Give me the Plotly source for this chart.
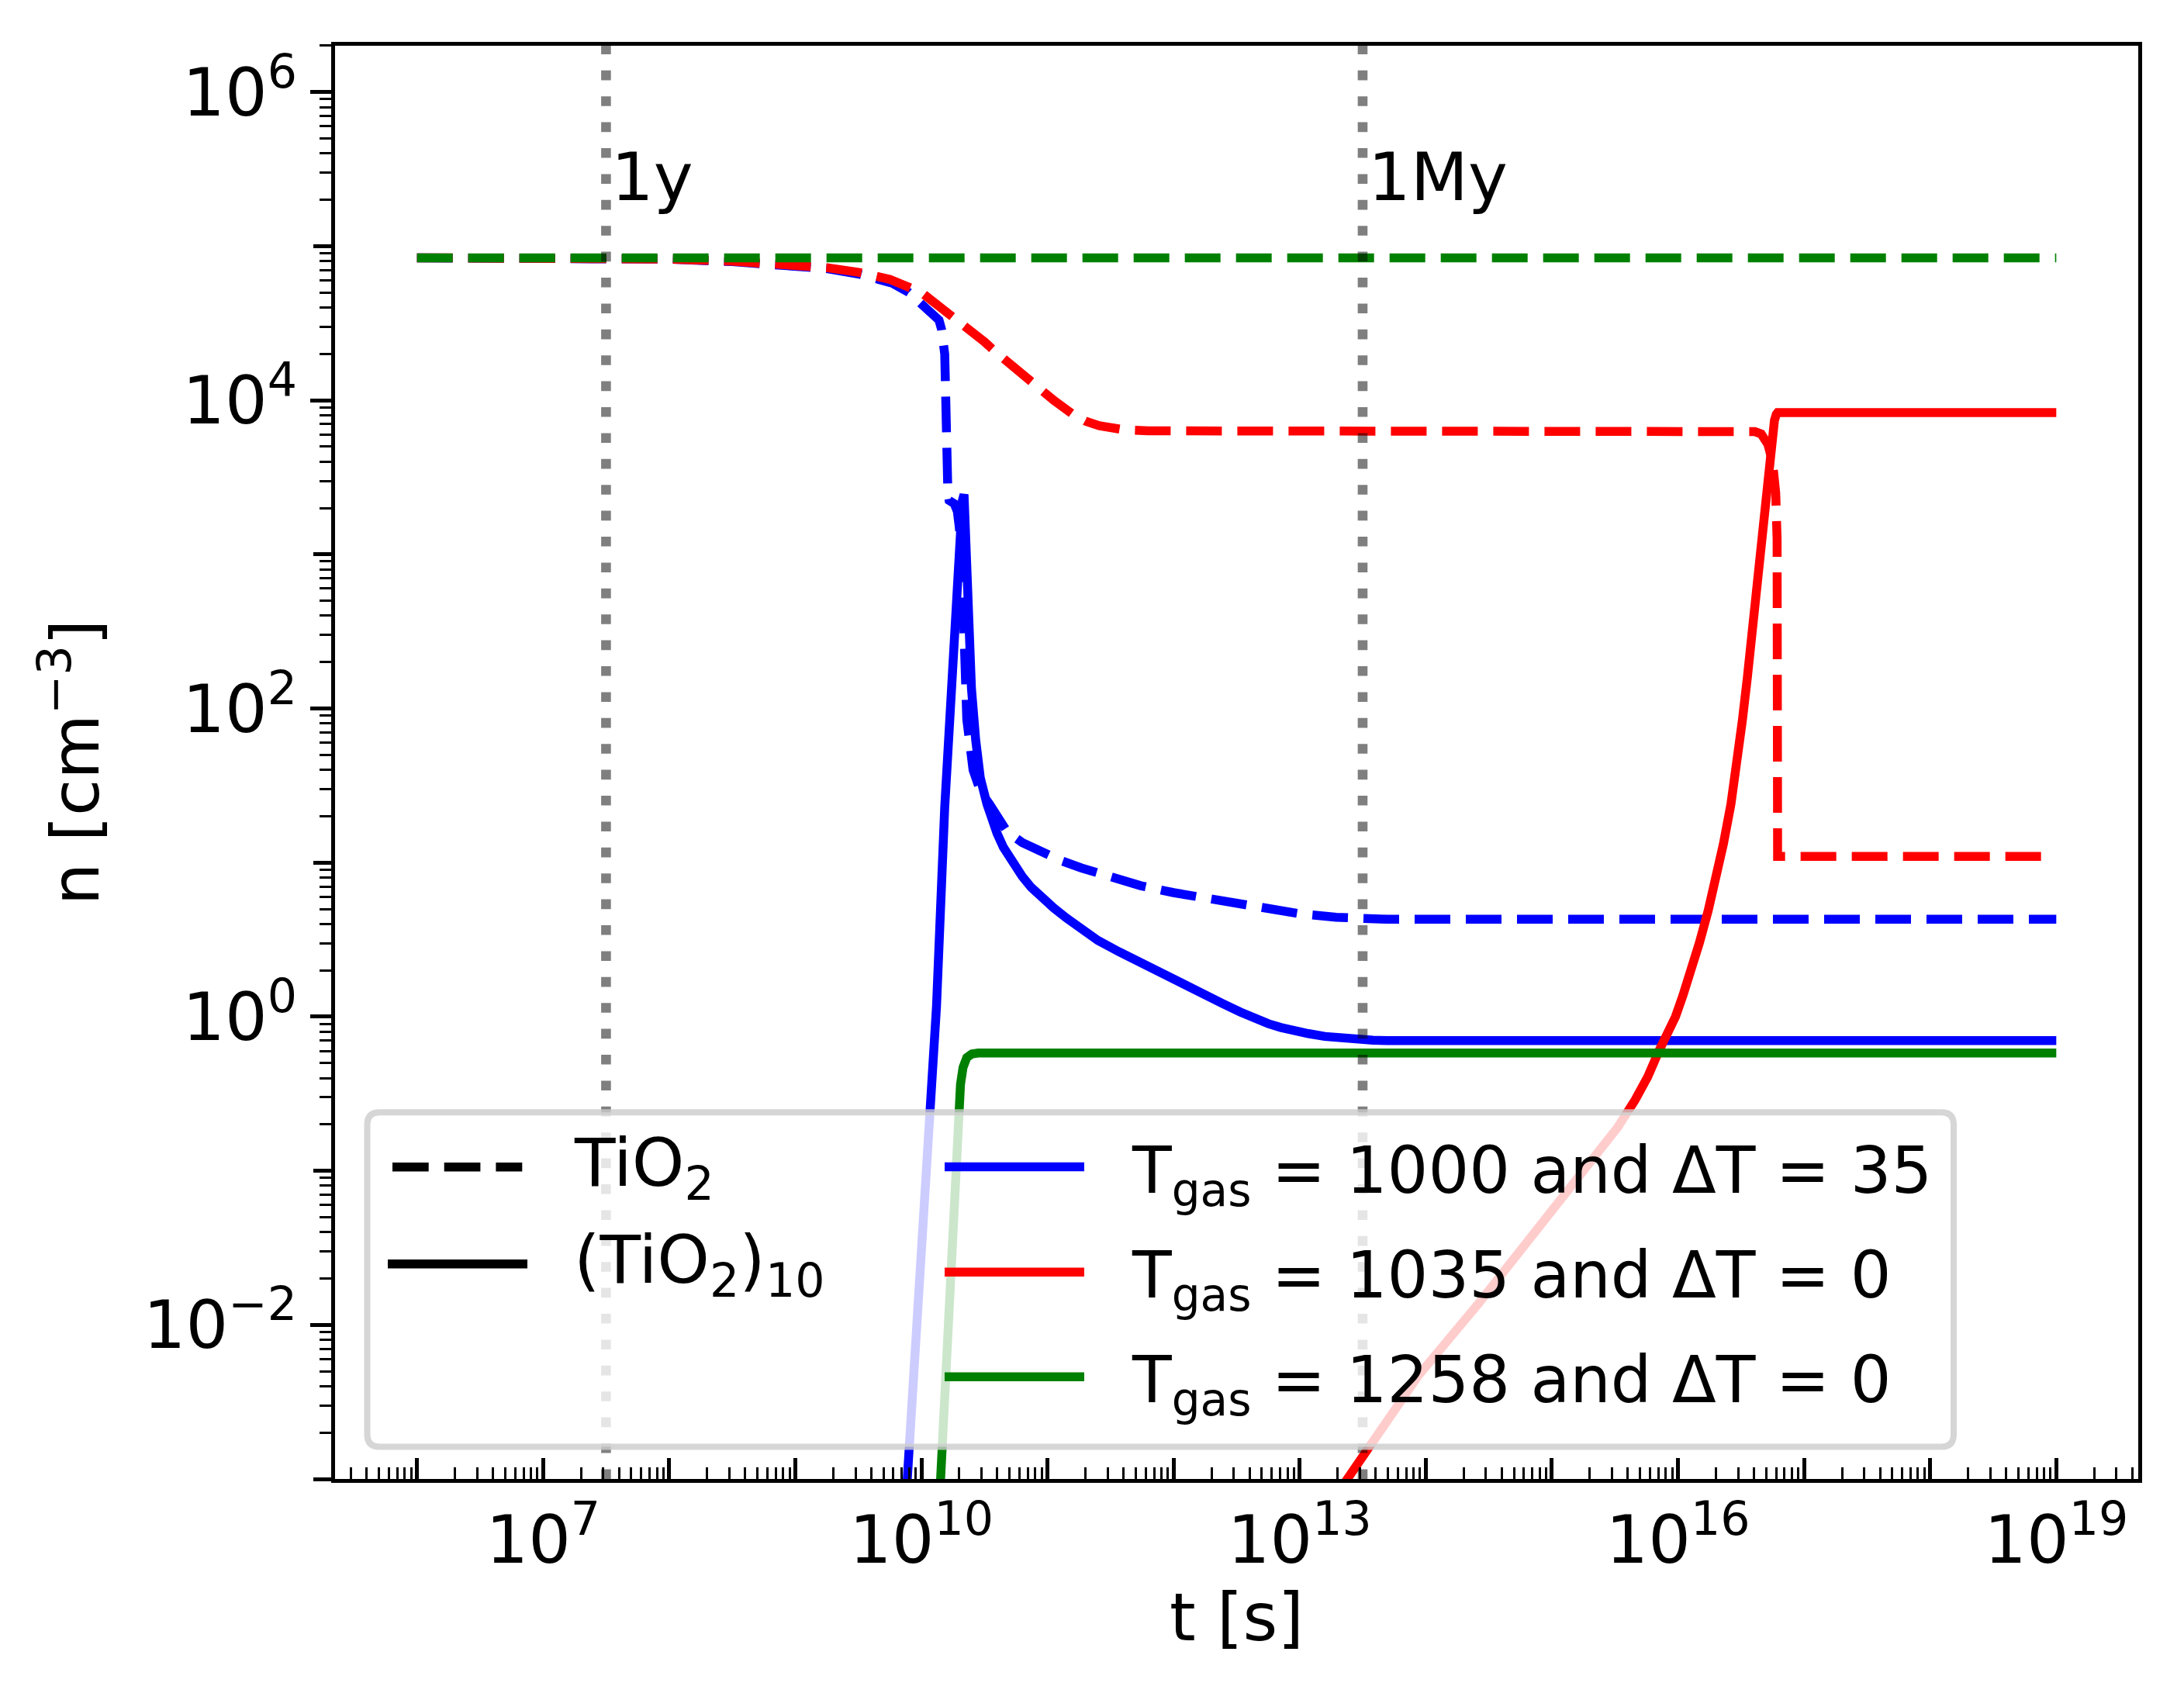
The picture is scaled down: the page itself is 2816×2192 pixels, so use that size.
import numpy as np
import plotly.graph_objects as go

# curves, as log10(t [s]) / log10(n [cm^-3])
# T_gas = 1000, dT = 35  (blue)
blue_dash_logt = [6.0, 7.5, 8.0, 8.5, 9.0, 9.25, 9.5, 9.77, 9.9, 9.97, 10.05, 10.1, 10.14,
                  10.16, 10.175, 10.185, 10.21, 10.22, 10.26, 10.285, 10.30, 10.32, 10.33,
                  10.34, 10.36, 10.41, 10.47, 10.54, 10.6, 10.68, 10.8, 10.92, 11.1, 11.27,
                  11.5, 11.74, 12.0, 12.21, 12.45, 12.68, 13.0, 13.29, 13.5, 13.7, 19.0]
blue_dash_logn = [4.925, 4.922, 4.916, 4.90, 4.875, 4.855, 4.82, 4.76, 4.70, 4.65, 4.59, 4.55,
                  4.52, 4.46, 4.38, 4.30, 3.40, 3.35, 3.33, 3.28, 3.18, 3.0, 2.7, 2.26, 1.93,
                  1.60, 1.46, 1.38, 1.30, 1.20, 1.13, 1.08, 1.015, 0.965, 0.905, 0.85, 0.805,
                  0.775, 0.74, 0.705, 0.668, 0.645, 0.635, 0.632, 0.632]
blue_solid_logt = [9.873, 9.89, 9.99, 10.08, 10.12, 10.185, 10.256, 10.303, 10.325, 10.338,
                   10.35, 10.37, 10.397, 10.43, 10.467, 10.52, 10.56, 10.6, 10.65, 10.72,
                   10.8, 10.87, 10.95, 11.05, 11.15, 11.27, 11.4, 11.57, 11.74, 11.87, 12.0,
                   12.12, 12.25, 12.39, 12.53, 12.64, 12.75, 12.85, 12.94, 13.07, 13.2, 13.32,
                   13.45, 13.58, 13.7, 19.0]
blue_solid_logn = [-3.2, -2.975, -1.79, -0.60, 0.07, 1.36, 2.51, 3.085, 3.35, 3.39,
                   3.08, 2.6, 2.13, 1.8, 1.55, 1.38, 1.26, 1.19, 1.10, 1.0,
                   0.91, 0.84, 0.775, 0.705, 0.64, 0.57, 0.495, 0.42, 0.35, 0.29, 0.23,
                   0.185, 0.14, 0.085, 0.03, -0.01, -0.045, -0.07, -0.09, -0.11, -0.128, -0.14,
                   -0.148, -0.152, -0.155, -0.155]

# T_gas = 1035, dT = 0  (red)
red_dash_logt = [6.0, 7.0, 7.5, 8.0, 8.5, 9.0, 9.25, 9.5, 9.75, 10.0, 10.13, 10.25, 10.38,
                 10.5, 10.58, 10.75, 10.89, 11.05, 11.2, 11.3, 11.41, 11.5, 11.61, 11.8,
                 12.5, 16.55, 16.61, 16.66, 16.713, 16.75, 16.775, 16.786, 16.79, 19.0]
red_dash_logn = [4.925, 4.924, 4.922, 4.917, 4.903, 4.88, 4.861, 4.831, 4.785, 4.70, 4.62,
                 4.54, 4.46, 4.38, 4.32, 4.20, 4.10, 4.0, 3.91, 3.865, 3.835, 3.818, 3.808,
                 3.802, 3.80, 3.80, 3.797, 3.782, 3.715, 3.6, 3.4, 3.1, 1.04, 1.04]
red_solid_logt = [13.21, 13.42, 13.94, 14.41, 14.88, 15.12, 15.35, 15.52, 15.66, 15.76, 15.85,
                  15.92, 15.98, 16.04, 16.10, 16.17, 16.24, 16.30, 16.36, 16.42, 16.47, 16.51,
                  16.55, 16.58, 16.61, 16.635, 16.655, 16.675, 16.694, 16.71, 16.725, 16.745,
                  16.765, 16.78, 16.79, 19.0]
red_solid_logn = [-3.2, -2.95, -2.33, -1.87, -1.39, -1.15, -0.90, -0.72, -0.54, -0.39, -0.22,
                  -0.10, 0.0, 0.14, 0.29, 0.48, 0.69, 0.89, 1.12, 1.38, 1.65, 1.92,
                  2.2, 2.44, 2.68, 2.88, 3.03, 3.19, 3.35, 3.49, 3.62, 3.765,
                  3.87, 3.91, 3.92, 3.92]

# T_gas = 1258, dT = 0  (green)
green_dash_logt = [6.0, 19.0]
green_dash_logn = [4.925, 4.925]
green_solid_logt = [10.14, 10.165, 10.29, 10.31, 10.33, 10.36, 10.40, 10.45, 19.0]
green_solid_logn = [-3.2, -2.77, -0.61, -0.44, -0.33, -0.265, -0.242, -0.236, -0.236]

# reference times
t_marks = [3.156e7, 3.156e13]
t_mark_labels = ["1y", "1My"]
t_mark_label_n = 2e5
n_limits = [1e-3, 2e6]

species_labels = ["TiO<sub>2</sub>", "(TiO<sub>2</sub>)<sub>10</sub>"]
run_labels = ["T<sub>gas</sub> = 1000 and ΔT = 35",
              "T<sub>gas</sub> = 1035 and ΔT = 0",
              "T<sub>gas</sub> = 1258 and ΔT = 0"]
run_colors = ["#0000ff", "#ff0000", "#008000"]

x_labeled = [7, 10, 13, 16, 19]
y_labeled = [-2, 0, 2, 4, 6]

# page geometry (pixels of the screenshot)
FIG_W, FIG_H = 2800, 2176
OFF = 8  # default body margin of the html page
L, R, T, B = 424, 51, 51, 277
PW, PH = FIG_W - L - R, FIG_H - T - B
FONT = "DejaVu Sans"
FS = 86
LW = 11.5
DASH = "46px,20px"
XR = [5.35, 19.65]
YR = [-3, 6.301]


def px(x):
    return (x - OFF - L) / PW


def py(y):
    return (FIG_H - B - (y - OFF)) / PH


def curve(logt, logn, color, dash, width=LW):
    return go.Scatter(
        x=10 ** np.array(logt), y=10 ** np.array(logn),
        mode="lines", showlegend=False, hoverinfo="skip",
        line=dict(color=color, width=width, dash=dash),
    )


fig = go.Figure()
fig.add_trace(curve(blue_dash_logt, blue_dash_logn, run_colors[0], DASH))
fig.add_trace(curve(blue_solid_logt, blue_solid_logn, run_colors[0], "solid"))
fig.add_trace(curve(red_dash_logt, red_dash_logn, run_colors[1], DASH))
fig.add_trace(curve(red_solid_logt, red_solid_logn, run_colors[1], "solid"))
fig.add_trace(curve(green_dash_logt, green_dash_logn, run_colors[2], DASH))
fig.add_trace(curve(green_solid_logt, green_solid_logn, run_colors[2], "solid"))

# vertical markers at 1 year and 1 Myr (half transparent black dots)
for t in t_marks:
    fig.add_trace(go.Scatter(
        x=[t, t], y=n_limits, mode="lines", showlegend=False, hoverinfo="skip",
        line=dict(color="rgba(0,0,0,0.5)", width=12.6, dash="12.6px,20.8px"),
    ))

# invisible trace so the overlay axes (decade ticks) get drawn
fig.add_trace(go.Scatter(x=[1e10], y=[1.0], xaxis="x2", yaxis="y2", mode="markers",
                         marker=dict(opacity=0), showlegend=False, hoverinfo="skip"))

shapes = []
annotations = []

for t, lab in zip(t_marks, t_mark_labels):
    annotations.append(dict(x=np.log10(t), y=np.log10(t_mark_label_n), xref="x", yref="y",
                            text=lab, showarrow=False, xanchor="left", yanchor="bottom",
                            xshift=5, yshift=-22,
                            font=dict(family=FONT, size=FS, color="black")))

# legend frame (rounded, semi transparent like matplotlib)
x0, x1 = px(473.5), px(2519)
yt, yb = py(1434.3), py(1865.5)
rx, ry = 16 / PW, 16 / PH
path = (f"M {x0+rx},{yt} L {x1-rx},{yt} Q {x1},{yt} {x1},{yt-ry} L {x1},{yb+ry} "
        f"Q {x1},{yb} {x1-rx},{yb} L {x0+rx},{yb} Q {x0},{yb} {x0},{yb+ry} "
        f"L {x0},{yt-ry} Q {x0},{yt} {x0+rx},{yt} Z")
shapes.append(dict(type="path", xref="paper", yref="paper", path=path, layer="above",
                   fillcolor="rgba(255,255,255,0.8)",
                   line=dict(color="rgba(204,204,204,0.8)", width=8)))

# legend column 1: line styles
col1_rows = [1504.8, 1629.7]
shapes.append(dict(type="line", xref="paper", yref="paper", layer="above",
                   x0=px(506), x1=px(673.3), y0=py(col1_rows[0]), y1=py(col1_rows[0]),
                   line=dict(color="black", width=LW, dash="46.7px,20px")))
shapes.append(dict(type="line", xref="paper", yref="paper", layer="above",
                   x0=px(500), x1=px(680), y0=py(col1_rows[1]), y1=py(col1_rows[1]),
                   line=dict(color="black", width=LW)))
for lab, yy in zip(species_labels, col1_rows):
    annotations.append(dict(x=px(738), y=py(yy), xref="paper", yref="paper", text=lab,
                            showarrow=False, xanchor="left", yanchor="middle",
                            font=dict(family=FONT, size=FS, color="black")))

# legend column 2: runs
col2_rows = [1504.6, 1640.2, 1775.2]
for lab, col, yy in zip(run_labels, run_colors, col2_rows):
    shapes.append(dict(type="line", xref="paper", yref="paper", layer="above",
                       x0=px(1218), x1=px(1398), y0=py(yy), y1=py(yy),
                       line=dict(color=col, width=LW)))
    annotations.append(dict(x=px(1457), y=py(yy), xref="paper", yref="paper", text=lab,
                            showarrow=False, xanchor="left", yanchor="middle", yshift=-10,
                            font=dict(family=FONT, size=83, color="black")))

x_minor = [k * 10.0 ** d for d in range(5, 20) for k in range(2, 10)]
y_minor = [k * 10.0 ** d for d in range(-3, 7) for k in range(2, 10)]
x_decades = [10.0 ** d for d in range(6, 20)]
y_decades = [10.0 ** d for d in range(-3, 7)]

tick_font = dict(family=FONT, size=FS, color="black")
axis_common = dict(
    type="log", showgrid=False, zeroline=False, showline=True, mirror=True,
    linecolor="black", linewidth=4.6, tickcolor="black", tickwidth=4.5, ticklen=27,
    tickfont=tick_font,
)

fig.update_layout(
    xaxis=dict(
        **axis_common, range=XR, ticks="inside",
        tickvals=[10.0 ** d for d in x_labeled],
        ticktext=[f"10<sup>{d}</sup>" for d in x_labeled],
        minor=dict(ticks="inside", tickvals=x_minor, ticklen=15, tickwidth=3, tickcolor="black"),
        title=dict(text="t [s]", font=tick_font, standoff=21),
    ),
    yaxis=dict(
        **axis_common, range=YR, ticks="outside",
        tickvals=[10.0 ** d for d in y_labeled],
        ticktext=[f"10<sup>{d}</sup>".replace("-", "−") for d in y_labeled],
        minor=dict(ticks="outside", tickvals=y_minor, ticklen=15, tickwidth=3, tickcolor="black"),
        title=dict(text="n [cm<sup>−3</sup>]", font=tick_font, standoff=30),
    ),
    # overlay axes only carry the long tick at every decade
    xaxis2=dict(type="log", range=XR, overlaying="x", anchor="y", side="bottom",
                showgrid=False, zeroline=False, showline=False, showticklabels=False,
                ticks="inside", tickvals=x_decades, ticklen=27, tickwidth=4.5,
                tickcolor="black"),
    yaxis2=dict(type="log", range=YR, overlaying="y", anchor="x", side="left",
                showgrid=False, zeroline=False, showline=False, showticklabels=False,
                ticks="outside", tickvals=y_decades, ticklen=27, tickwidth=4.5,
                tickcolor="black"),
    width=FIG_W, height=FIG_H, autosize=False,
    margin=dict(l=L, r=R, t=T, b=B),
    paper_bgcolor="white", plot_bgcolor="white",
    font=dict(family=FONT, size=FS, color="black"),
    shapes=shapes, annotations=annotations,
    showlegend=False,
)

fig.write_html("out.html")
